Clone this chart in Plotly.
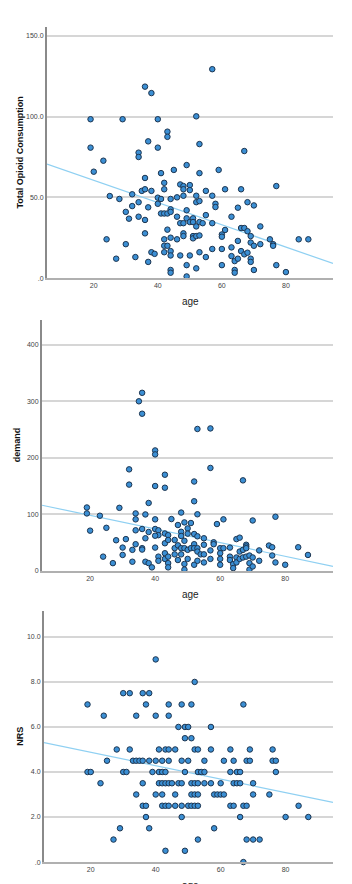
import plotly.graph_objects as go

# ---------------- Panel 1: Total Opioid Consumption vs age ----------------
age1 = [19, 29, 36, 38, 40, 43, 43, 52, 57,
        19, 20, 23, 24, 25, 27, 28, 30, 30, 31, 32, 32, 33, 34, 34, 34, 34, 35, 36, 36, 36, 36,
        37, 37, 37, 38, 38, 39, 40, 40, 40, 41, 41, 41, 42, 42, 42, 42, 42, 42, 43, 43, 43,
        44, 44, 44, 44, 44, 44, 44, 44, 45, 46, 46, 46, 47, 47, 47, 48, 48, 48, 48, 48, 48,
        49, 49, 49, 49, 49, 50, 50, 50, 50, 51, 51, 51, 51, 52, 52, 52, 52, 52, 53, 53, 53,
        53, 53, 53, 54, 55, 55, 55, 57, 57, 57, 58, 58, 59, 60, 60, 60, 60, 61, 61, 63, 63,
        63, 64, 64, 64, 65, 65, 65, 66, 66, 66, 67, 67, 67, 68, 68, 68, 69, 69, 69, 69, 70,
        70, 70, 72, 72, 75, 76, 76, 77, 77, 80, 84, 87]
toc1 = [98.4, 98.4, 118.6, 114.6, 98.4, 90.7, 87.5, 100.2, 129.4,
        80.8, 65.9, 72.7, 24, 50.8, 12, 49, 41, 21, 36.8, 51.9, 44.6, 13, 77.7, 75, 47, 38, 54,
        62, 55, 36, 27.7, 84.7, 43.8, 10, 54, 16, 15, 80.8, 49.8, 46, 65, 49, 40, 59, 55, 40,
        24, 20, 16, 40, 30, 20, 49, 42.6, 41, 25, 16.7, 14, 5, 3.3, 67, 50, 38, 24, 58, 34, 14,
        57, 55, 51, 34, 27.7, 26, 70, 42, 37, 8, 1, 57.6, 54.5, 34.7, 14, 37, 34.7, 26, 24.6,
        51, 47, 32, 26, 6, 83, 65, 47.7, 34.7, 26.4, 16, 34, 54, 39, 13, 51, 34, 18, 46, 44,
        67, 27, 25.6, 18, 8, 55, 29.8, 38, 19, 13.6, 10.5, 5, 3.3, 43.6, 23, 12, 55, 31, 16.7,
        78.7, 31, 14.7, 47, 29, 15.7, 26, 22, 12, 10, 45, 20, 5, 32, 21, 24, 21, 20, 57, 8,
        3.7, 24, 24]

# ---------------- Panel 2: demand vs age ----------------
age2 = [36, 35, 36, 53, 57, 40, 40, 32, 57, 43, 32, 40, 43, 52, 67, 52, 38, 19, 29, 48, 53,
        19, 23, 34, 37, 77, 45, 34, 40, 61, 70, 49, 51, 59, 47, 20, 25, 34, 36, 38, 40, 41,
        41, 40, 43, 44, 48, 48, 50, 50, 52, 53, 55, 58, 58, 28, 31, 30, 30, 34, 37, 33, 36,
        36, 40, 43, 44, 46, 49, 46, 47, 48, 48, 49, 50, 51, 52, 52, 53, 53, 54, 55, 55, 57,
        60, 60, 61, 63, 65, 66, 66, 67, 68, 68, 68, 72, 75, 76, 84, 87, 24, 27, 33, 37, 38,
        39, 41, 41, 43, 43, 44, 44, 44, 46, 47, 49, 49, 50, 52, 53, 55, 57, 60, 60, 63, 63,
        64, 64, 65, 65, 66, 67, 68, 69, 69, 69, 70, 70, 72, 76, 77, 80]
dem2 = [315, 300, 278, 251, 252, 213, 206, 179.5, 182, 170, 152.5, 150, 147, 158, 160, 123,
        120, 112, 111.4, 103, 100, 101.5, 97.4, 101.5, 99.7, 95.6, 91.5, 91, 91, 91, 89, 85.6,
        84.5, 82.7, 81, 71, 76, 71.6, 73.9, 68.6, 73.9, 71.6, 63, 62, 66, 63, 69, 61.6, 75,
        65.7, 65, 61, 57.5, 50.4, 47, 54, 56, 41, 28, 47, 57.5, 37, 40, 37.5, 41, 48.7, 54.5,
        54.5, 53, 40, 45, 40, 29, 40, 37, 40, 47, 40, 40, 34, 29, 46, 29, 36, 40, 31, 40, 41,
        56, 58.6, 34, 37, 46, 43, 40, 36, 44.6, 41.6, 41.6, 28, 25, 13.5, 16, 16, 13.5, 6, 25,
        17.6, 21, 31, 25, 13.5, 6, 29, 19, 12, 2, 21, 10.6, 17.6, 14.7, 21, 21, 10.6, 25, 19,
        11.7, 4.7, 23.5, 14.7, 21, 23.5, 25, 27, 13.5, 2, 23.5, 7.6, 17.6, 27, 14.7, 10.6]

# ---------------- Panel 3: NRS vs age ----------------
age3 = [40, 52,
        30, 32, 36, 38,
        19, 37, 44, 48, 51, 67,
        24, 34, 40, 44,
        47, 49, 50, 57,
        49, 51,
        28, 32, 41, 43, 44, 46, 52, 53, 57, 63, 69, 76,
        25, 33, 34, 35, 36, 38, 40, 42, 44, 48, 50, 55, 61, 64, 68, 69, 76, 77,
        19, 20, 30, 31, 39, 41, 42, 43, 49, 53, 54, 55, 63, 65, 66, 77,
        23, 36, 41, 42, 43, 44, 45, 47, 48, 51, 52, 53, 55, 57, 60, 64, 65, 66, 70,
        34, 40, 42, 46, 51, 52, 53, 58, 59, 60, 61, 70, 75,
        36, 37, 42, 43, 44, 46, 48, 50, 51, 52, 53, 63, 64, 67, 68, 84,
        37, 48, 66, 80, 87,
        29, 38, 58,
        27, 53, 68, 70, 72,
        43, 49,
        67]
nrs3 = [9.0, 8.0,
        7.5, 7.5, 7.5, 7.5,
        7.0, 7.0, 7.0, 7.0, 7.0, 7.0,
        6.5, 6.5, 6.5, 6.5,
        6.0, 6.0, 6.0, 6.0,
        5.5, 5.5,
        5.0, 5.0, 5.0, 5.0, 5.0, 5.0, 5.0, 5.0, 5.0, 5.0, 5.0, 5.0,
        4.5, 4.5, 4.5, 4.5, 4.5, 4.5, 4.5, 4.5, 4.5, 4.5, 4.5, 4.5, 4.5, 4.5, 4.5, 4.5, 4.5, 4.5,
        4.0, 4.0, 4.0, 4.0, 4.0, 4.0, 4.0, 4.0, 4.0, 4.0, 4.0, 4.0, 4.0, 4.0, 4.0, 4.0,
        3.5, 3.5, 3.5, 3.5, 3.5, 3.5, 3.5, 3.5, 3.5, 3.5, 3.5, 3.5, 3.5, 3.5, 3.5, 3.5, 3.5, 3.5, 3.5,
        3.0, 3.0, 3.0, 3.0, 3.0, 3.0, 3.0, 3.0, 3.0, 3.0, 3.0, 3.0, 3.0,
        2.5, 2.5, 2.5, 2.5, 2.5, 2.5, 2.5, 2.5, 2.5, 2.5, 2.5, 2.5, 2.5, 2.5, 2.5, 2.5,
        2.0, 2.0, 2.0, 2.0, 2.0,
        1.5, 1.5, 1.5,
        1.0, 1.0, 1.0, 1.0, 1.0,
        0.5, 0.5,
        0.0]

# Fit lines (intercept, slope)
fit1 = [74.3, -0.689]
fit2 = [122.3, -1.209]
fit3 = [5.47, -0.0298]

# Axis ticks
y1_ticks = [0, 50, 100, 150]
y1_text = [".0", "50.0", "100.0", "150.0"]
y2_ticks = [0, 100, 200, 300, 400]
y2_text = ["0", "100", "200", "300", "400"]
y3_ticks = [0, 2, 4, 6, 8, 10]
y3_text = [".0", "2.0", "4.0", "6.0", "8.0", "10.0"]
x_ticks = [20, 40, 60, 80]

W, H = 352, 884
FONT = "Liberation Sans, Arial, sans-serif"

panels = [
    dict(x=age1, y=toc1, fit=fit1, xr=[5.4, 94.7], yr=[0, 155.6], px=(47, 333), py=(27, 279),
         yt=y1_ticks, ytt=y1_text, title="Total Opioid Consumption", tx=20),
    dict(x=age2, y=dem2, fit=fit2, xr=[5.2, 94.7], yr=[0, 444.6], px=(42, 333), py=(320.7, 572.7),
         yt=y2_ticks, ytt=y2_text, title="demand", tx=17),
    dict(x=age3, y=nrs3, fit=fit3, xr=[5.6, 94.6], yr=[0, 11.14], px=(44, 333), py=(613.3, 865),
         yt=y3_ticks, ytt=y3_text, title="NRS", tx=20),
]

fig = go.Figure()
annotations = []
for i, p in enumerate(panels, start=1):
    xa = "x" if i == 1 else f"x{i}"
    ya = "y" if i == 1 else f"y{i}"
    b, m = p["fit"]
    fx = [p["xr"][0], p["xr"][1]]
    fy = [b + m * v for v in fx]
    fig.add_trace(go.Scatter(x=fx, y=fy, mode="lines", xaxis=xa, yaxis=ya,
                             line=dict(color="#8fd0f2", width=1.2), showlegend=False,
                             hoverinfo="skip"))
    fig.add_trace(go.Scatter(x=p["x"], y=p["y"], mode="markers", xaxis=xa, yaxis=ya,
                             marker=dict(size=5.5, color="#3b8fd4",
                                         line=dict(color="#1d3550", width=1)),
                             cliponaxis=False, showlegend=False))
    x0, x1 = p["px"]
    y0, y1 = p["py"]
    xkey = "xaxis" if i == 1 else f"xaxis{i}"
    ykey = "yaxis" if i == 1 else f"yaxis{i}"
    fig.layout[xkey] = dict(domain=[x0 / W, x1 / W], range=p["xr"], anchor=ya,
                            tickvals=x_ticks, ticktext=[str(v) for v in x_ticks],
                            showgrid=False, zeroline=False, showline=True,
                            linecolor="#b0b0b0", linewidth=2, ticks="",
                            tickfont=dict(size=7, color="#444", family=FONT))
    fig.layout[ykey] = dict(domain=[1 - y1 / H, 1 - y0 / H], range=p["yr"], anchor=xa,
                            tickvals=p["yt"], ticktext=p["ytt"],
                            showgrid=True, gridcolor="#d6d6d6", gridwidth=1.5,
                            zeroline=False, showline=True, linecolor="#8a8a8a",
                            linewidth=2, ticks="",
                            tickfont=dict(size=7, color="#444", family=FONT))
    # axis titles
    annotations.append(dict(x=190 / W, y=1 - (y1 + 24) / H, xref="paper", yref="paper",
                            text="age", showarrow=False, xanchor="center", yanchor="middle",
                            font=dict(size=10, color="#222", family=FONT)))
    annotations.append(dict(x=p["tx"] / W, y=1 - ((y0 + y1) / 2) / H, xref="paper",
                            yref="paper", text="<b>" + p["title"] + "</b>", textangle=-90,
                            showarrow=False, xanchor="center", yanchor="middle",
                            font=dict(size=9, color="#111", family=FONT)))

fig.update_layout(width=W, height=H, margin=dict(l=0, r=0, t=0, b=0),
                  paper_bgcolor="white", plot_bgcolor="white",
                  annotations=annotations, showlegend=False)

fig.write_html("out.html")
